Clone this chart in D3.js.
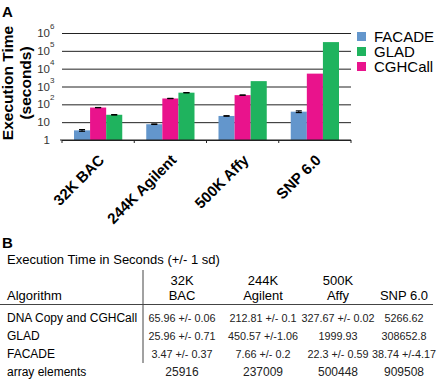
<!DOCTYPE html>
<html>
<head>
<meta charset="utf-8">
<script src="https://cdn.jsdelivr.net/npm/d3@7"></script>
<style>
  body { margin: 0; background: #fff; }
  svg { font-family: "Liberation Sans", Arial, Helvetica, sans-serif; }
</style>
</head>
<body>
<div id="chart"></div>
<script>
const categories = ["32K BAC", "244K Agilent", "500K Affy", "SNP 6.0"];
const barSeries = ["FACADE", "CGHCall", "GLAD"];
const legendSeries = ["FACADE", "GLAD", "CGHCall"];

const facadeTime = [3.47, 7.66, 22.3, 38.74];
const facadeSd = [0.37, 0.2, 0.59, 4.17];
const cghcallTime = [65.96, 212.81, 327.67, 5266.62];
const cghcallSd = [0.06, 0.1, 0.02, 0];
const gladTime = [25.96, 450.57, 1999.93, 308652.8];
const gladSd = [0.71, 1.06, 0, 0];

const yTicks = [1, 10, 100, 1e3, 1e4, 1e5, 1e6];

// table (part B)
const tableTitle = "Execution Time in Seconds (+/- 1 sd)";
const colHeadTop = ["32K", "244K", "500K", ""];
const colHeadBottom = ["BAC", "Agilent", "Affy", "SNP 6.0"];
const rowLabels = ["DNA Copy and CGHCall", "GLAD", "FACADE", "array elements"];
const rowCghcall = ["65.96 +/- 0.06", "212.81 +/- 0.1", "327.67 +/- 0.02", "5266.62"];
const rowGlad = ["25.96 +/- 0.71", "450.57 +/-1.06", "1999.93", "308652.8"];
const rowFacade = ["3.47 +/- 0.37", "7.66 +/- 0.2", "22.3 +/- 0.59", "38.74 +/-4.17"];
const arrayElements = [25916, 237009, 500448, 909508];

const colors = {
    'FACADE': '#6396cc',
    'GLAD': '#1fb35e',
    'CGHCall': '#e9138c'
};

const width = 437, height = 381;
const svg = d3.select("#chart").append("svg")
    .attr("width", width).attr("height", height);

// ---------- A: bar chart ----------
const plot = { left: 62, right: 351, top: 33, bottom: 140 };

const x = d3.scaleBand().domain(categories).range([plot.left, plot.right]);
const xSub = d3.scaleBand().domain(barSeries).range([12, x.bandwidth() - 12]);
const y = d3.scaleLog().domain([1, 1e6]).range([plot.bottom, plot.top]);

const values = { FACADE: facadeTime, CGHCall: cghcallTime, GLAD: gladTime };
const sds = { FACADE: facadeSd, CGHCall: cghcallSd, GLAD: gladSd };

svg.append("text").attr("x", 2).attr("y", 17)
    .attr("font-size", 15).attr("font-weight", "bold").text("A");

// gridlines
svg.append("g").attr("transform", `translate(${plot.left},0)`)
    .call(d3.axisLeft(y).tickValues(yTicks).tickSize(-(plot.right - plot.left)).tickFormat(""))
    .call(g => g.select(".domain").remove())
    .call(g => g.selectAll("line").attr("stroke", "#222").attr("stroke-width", 1));

// y labels: 1, 10, 10^n
const yLab = svg.append("g").attr("font-size", 11.5).attr("fill", "#333");
yTicks.forEach(v => {
    const e = Math.round(Math.log10(v));
    const t = yLab.append("text").attr("y", y(v)).attr("dy", "0.35em");
    if (e < 2) {
        t.attr("x", 50).attr("text-anchor", "end").text(v);
    } else {
        t.attr("x", 50).attr("text-anchor", "end").text("10");
        yLab.append("text").attr("x", 50).attr("y", y(v) - 4)
            .attr("font-size", 8).text(e);
    }
});

// y title
const yt = svg.append("text").attr("transform", "translate(13,83) rotate(-90)")
    .attr("text-anchor", "middle").attr("font-size", 15.5).attr("font-weight", "bold");
yt.append("tspan").attr("x", 0).attr("y", 0).text("Execution Time");
yt.append("tspan").attr("x", 0).attr("y", 18).text("(seconds)");

// bars
const groups = svg.append("g").selectAll("g").data(categories).join("g")
    .attr("transform", d => `translate(${x(d)},0)`);

groups.each(function(cat, i) {
    const g = d3.select(this);
    barSeries.forEach(s => {
        const v = values[s][i];
        g.append("rect")
            .attr("x", xSub(s)).attr("width", xSub.bandwidth())
            .attr("y", y(v)).attr("height", y(1) - y(v))
            .attr("fill", colors[s]);
        const sd = sds[s][i];
        if (sd > 0) {
            const cx = xSub(s) + xSub.bandwidth() / 2;
            const y0 = y(v + sd), y1 = y(Math.max(v - sd, 1));
            g.append("line").attr("x1", cx).attr("x2", cx).attr("y1", y0).attr("y2", y1)
                .attr("stroke", "#000").attr("stroke-width", 1);
            [y0, y1].forEach(yy => g.append("line")
                .attr("x1", cx - 3).attr("x2", cx + 3).attr("y1", yy).attr("y2", yy)
                .attr("stroke", "#000").attr("stroke-width", 1.2));
        }
    });
});

// x axis with ticks at group boundaries
const xAxis = svg.append("g").attr("stroke", "#222");
xAxis.append("line").attr("x1", plot.left - 2).attr("x2", plot.right)
    .attr("y1", plot.bottom).attr("y2", plot.bottom);
categories.concat([null]).forEach((c, i) => {
    const xx = c ? x(c) : plot.right;
    xAxis.append("line").attr("x1", xx).attr("x2", xx)
        .attr("y1", plot.bottom).attr("y2", plot.bottom + 3);
});

// x labels
svg.append("g").selectAll("text").data(categories).join("text")
    .attr("transform", d => `translate(${x(d) + x.bandwidth() / 2 + 7},161) rotate(-45)`)
    .attr("text-anchor", "end").attr("font-size", 15).attr("font-weight", "bold")
    .text(d => d);

// legend
const legend = svg.append("g").selectAll("g").data(legendSeries).join("g")
    .attr("transform", (d, i) => `translate(357,${32 + i * 15})`);
legend.append("rect").attr("width", 9).attr("height", 9).attr("fill", d => colors[d]);
legend.append("text").attr("x", 17).attr("y", 9.5).attr("font-size", 15).text(d => d);

// ---------- B: table ----------
svg.append("text").attr("x", 2).attr("y", 248)
    .attr("font-size", 15).attr("font-weight", "bold").text("B");
svg.append("text").attr("x", 7).attr("y", 264).attr("font-size", 13).text(tableTitle);

const colX = [182, 263, 338, 404];
const table = svg.append("g");

table.append("line").attr("x1", 143).attr("x2", 143).attr("y1", 270).attr("y2", 363)
    .attr("stroke", "#444");
table.append("line").attr("x1", 0).attr("x2", 433).attr("y1", 304.5).attr("y2", 304.5)
    .attr("stroke", "#444");

table.append("text").attr("x", 7).attr("y", 300).attr("font-size", 13).text("Algorithm");
colHeadTop.forEach((t, i) => table.append("text").attr("x", colX[i]).attr("y", 285)
    .attr("text-anchor", "middle").attr("font-size", 13).text(t));
colHeadBottom.forEach((t, i) => table.append("text").attr("x", colX[i]).attr("y", 300)
    .attr("text-anchor", "middle").attr("font-size", 13).text(t));

const rows = [rowCghcall, rowGlad, rowFacade, arrayElements.map(String)];
const rowY = [322, 340, 358, 376];
rows.forEach((r, ri) => {
    table.append("text").attr("x", 7).attr("y", rowY[ri]).attr("font-size", 12)
        .text(rowLabels[ri]);
    r.forEach((t, ci) => table.append("text").attr("x", colX[ci]).attr("y", rowY[ri])
        .attr("text-anchor", "middle").attr("font-size", ri === 3 ? 12 : 10.8)
        .attr("fill", "#222").text(t));
});
</script>
</body>
</html>
